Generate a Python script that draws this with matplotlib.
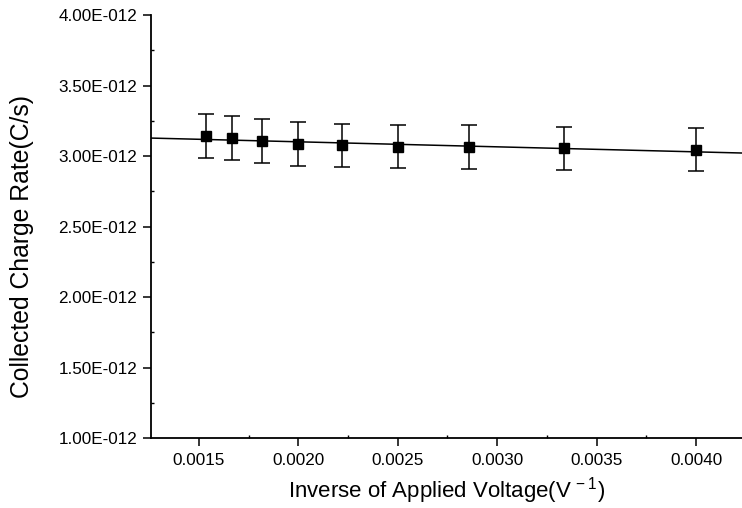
import numpy as np
import matplotlib
matplotlib.use("Agg")
import matplotlib.pyplot as plt
from matplotlib.ticker import MultipleLocator, FuncFormatter

plt.rcParams['font.family'] = ['Liberation Sans', 'DejaVu Sans']
plt.rcParams['mathtext.default'] = 'regular'

# data: inverse applied voltage (1/V) vs collected charge rate (C/s)
inv_voltage = [0.001538, 0.001667, 0.001818, 0.002000, 0.002222,
               0.002500, 0.002857, 0.003333, 0.004000]
charge_rate = [3.143e-12, 3.126e-12, 3.107e-12, 3.084e-12, 3.076e-12,
               3.066e-12, 3.064e-12, 3.055e-12, 3.045e-12]
charge_err = [0.157e-12, 0.156e-12, 0.155e-12, 0.154e-12, 0.154e-12,
              0.153e-12, 0.153e-12, 0.153e-12, 0.152e-12]
x_ticks = [0.0015, 0.0020, 0.0025, 0.0030, 0.0035, 0.0040]
y_ticks = [1.0e-12, 1.5e-12, 2.0e-12, 2.5e-12, 3.0e-12, 3.5e-12, 4.0e-12]
xlim = (0.00126, 0.00423)
ylim = (1.0e-12, 4.0e-12)

fig = plt.figure(figsize=(7.42, 5.08), dpi=100)
ax = fig.add_axes([151/742, 1-438/508, 1-151/742, (438-15)/508])

# linear fit line
coef = np.polyfit(inv_voltage, charge_rate, 1)
xf = np.array(xlim)
ax.plot(xf, np.polyval(coef, xf), color='black', lw=1.1, zorder=2)

ax.errorbar(inv_voltage, charge_rate, yerr=charge_err, fmt='s', color='black',
            markersize=7.2, capsize=6, elinewidth=1.1, capthick=1.1, zorder=3)

ax.set_xlim(*xlim)
ax.set_ylim(*ylim)
ax.set_xticks(x_ticks)
ax.set_yticks(y_ticks)
ax.xaxis.set_minor_locator(MultipleLocator(0.00025))
ax.yaxis.set_minor_locator(MultipleLocator(0.25e-12))
ax.xaxis.set_major_formatter(FuncFormatter(lambda v, p: f"{v:.4f}"))

def yfmt(v, p):
    m = v / 1e-12
    return f"{m:.2f}E-012"
ax.yaxis.set_major_formatter(FuncFormatter(yfmt))

for s in ['top', 'right']:
    ax.spines[s].set_visible(False)
for s in ['left', 'bottom']:
    ax.spines[s].set_linewidth(1.3)

ax.tick_params(which='major', direction='out', length=6, width=1.1,
               labelsize=12.3, colors='black')
ax.tick_params(axis='y', which='major', pad=4)
ax.tick_params(axis='x', which='major', pad=5)
ax.tick_params(which='minor', direction='in', length=2.5, width=1.0)

ax.set_ylabel('Collected Charge Rate(C/s)', fontsize=17.8)
ax.yaxis.set_label_coords(-0.218, (438-246)/423)
ax.set_xlabel('Inverse of Applied Voltage(V$^{\\,-1}$)', fontsize=16)
ax.xaxis.set_label_coords(0.5, -(491-438)/423)
ax.xaxis.label.set_va('center')
ax.yaxis.label.set_va('center')

fig.savefig('out.png', dpi=100)
